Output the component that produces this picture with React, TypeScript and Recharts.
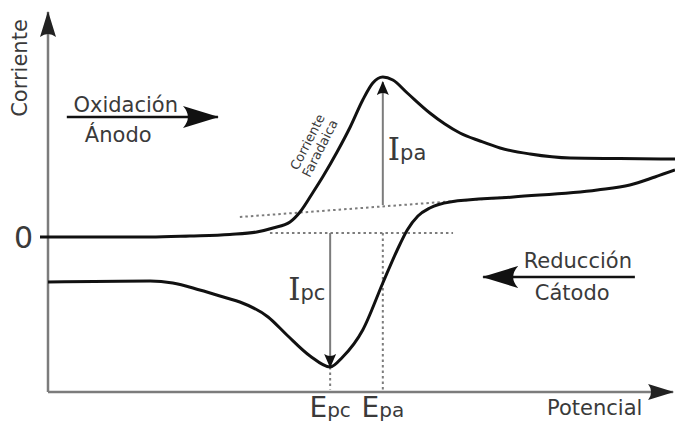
import React from 'react';
import { ComposedChart, Line, XAxis, YAxis, ReferenceLine, ReferenceDot } from 'recharts';

// cyclic voltammogram: potential (x) vs current (y)
const anodicPotential = [0, 16.3, 22.6, 29, 33.3, 35.9, 38.6, 40.2, 42.3, 43.9, 46.1, 48.2, 50.2, 51.8, 53.4, 55, 57.3, 60.9, 63.3, 65.7, 68.9, 72.1, 76.9, 83.3, 91.2, 100];
const anodicCurrent = [0, 0, 0.4, 1, 2, 3.6, 6, 10, 18, 24.4, 34, 44, 54.8, 61.6, 64, 62.8, 57.6, 49.6, 45.2, 41.6, 38.4, 35.6, 33.2, 31.6, 31.4, 31.2];

const cathodicPotential = [0, 16.3, 19.9, 24.2, 28.5, 30.6, 35.1, 38.1, 41.8, 45, 47, 50.2, 53.4, 55.7, 57.3, 59, 60.9, 64.1, 74.2, 87.6, 92.8, 96.8, 100];
const cathodicCurrent = [-18, -17.6, -18.4, -21.2, -24.4, -26, -32, -39.2, -47.6, -52, -48, -37.2, -18.4, -5.2, 2.8, 8.4, 11.6, 14, 16, 18.8, 20.8, 24, 26.8];

// peak potentials and reference levels
const EPC = 45;
const EPA = 53.4;
const peakTicks = [EPC, EPA];
const baselineStart = [30.6, 8];
const baselineEnd = [73.7, 16];
const zeroLevel = 1.6;
const zeroLineFrom = 35.4;
const zeroLineTo = 64.6;
const ipaBase = 12.8;
const ipaTop = 62;
const ipcBottom = -52;

const X_DOMAIN = [0, 100];
const Y_DOMAIN = [-62, 90];

const anodic = anodicPotential.map((x, i) => ({ x, y: anodicCurrent[i] }));
const cathodic = cathodicPotential.map((x, i) => ({ x, y: cathodicCurrent[i] }));

const ink = '#111';
const grey = '#7c7c7c';
const textColor = '#3a3a3a';
const font = 'DejaVu Sans, Verdana, sans-serif';

const note = (text: string, size = 21, anchor: 'start' | 'middle' | 'end' = 'middle', angle = 0) =>
  (p: any) => (
    <text
      x={p.cx}
      y={p.cy}
      fill={textColor}
      fontFamily={font}
      fontSize={size}
      textAnchor={anchor}
      transform={angle ? `rotate(${angle} ${p.cx} ${p.cy})` : undefined}
    >
      {text}
    </text>
  );

const peakCurrent = (sub: string) => (p: any) => (
  <text x={p.cx} y={p.cy} fill={textColor}>
    <tspan fontFamily="DejaVu Serif, serif" fontSize={31}>I</tspan>
    <tspan fontFamily={font} fontSize={21}>{sub}</tspan>
  </text>
);

const faradaic = (p: any) => (
  <text
    x={p.cx}
    y={p.cy}
    fill={textColor}
    fontFamily={font}
    fontSize={13}
    textAnchor="middle"
    transform={`rotate(-63 ${p.cx} ${p.cy})`}
  >
    <tspan x={p.cx} dy={-2}>Corriente</tspan>
    <tspan x={p.cx} dy={14}>Faradaica</tspan>
  </text>
);

const PeakTick = ({ x, y, payload }: any) => (
  <text x={x} y={y + 25} fill={textColor} fontFamily={font} textAnchor="middle">
    <tspan fontSize={28}>E</tspan>
    <tspan fontSize={20}>{payload.value === EPC ? 'pc' : 'pa'}</tspan>
  </text>
);

const ZeroTick = ({ x, y, payload }: any) => (
  <text x={x} y={y} dy={11} fill={textColor} fontFamily={font} fontSize={30} textAnchor="end">
    {payload.value}
  </text>
);

export default function App() {
  return (
    <div style={{ position: 'absolute', left: 0, top: 0, background: '#fff' }}>
      <ComposedChart width={675} height={423} margin={{ top: 12, right: 0, bottom: 0, left: 0 }}>
        <defs>
          <marker id="axisHead" markerUnits="userSpaceOnUse" markerWidth={26} markerHeight={16} refX={25} refY={8} orient="auto">
            <path d="M0,0 L26,8 L0,16 Q6,8 0,0 Z" fill="#222" />
          </marker>
          <marker id="bigHead" markerUnits="userSpaceOnUse" markerWidth={36} markerHeight={22} refX={35} refY={11} orient="auto">
            <path d="M0,0 L36,11 L0,22 Q10,11 0,0 Z" fill="#111" />
          </marker>
          <marker id="smallHead" markerUnits="userSpaceOnUse" markerWidth={14} markerHeight={12} refX={13} refY={6} orient="auto">
            <path d="M0,0 L14,6 L0,12 Q4,6 0,0 Z" fill="#111" />
          </marker>
        </defs>
        <XAxis
          type="number"
          dataKey="x"
          domain={X_DOMAIN}
          allowDataOverflow
          ticks={peakTicks}
          tick={<PeakTick />}
          tickSize={0}
          tickMargin={0}
          axisLine={false}
          tickLine={false}
          height={31}
        />
        <YAxis
          type="number"
          dataKey="y"
          domain={Y_DOMAIN}
          allowDataOverflow
          ticks={[0]}
          width={48}
          axisLine={false}
          tickLine={{ stroke: ink, strokeWidth: 3 }}
          tickSize={8}
          tickMargin={7}
          tick={<ZeroTick />}
        />

        {/* axes with arrow heads */}
        <ReferenceLine
          segment={[{ x: 0, y: Y_DOMAIN[0] }, { x: 99.7, y: Y_DOMAIN[0] }]}
          stroke={grey}
          strokeWidth={2.5}
          markerEnd="url(#axisHead)"
          ifOverflow="visible"
        />
        <ReferenceLine
          segment={[{ x: 0, y: Y_DOMAIN[0] }, { x: 0, y: Y_DOMAIN[1] }]}
          stroke={grey}
          strokeWidth={2.5}
          markerEnd="url(#axisHead)"
          ifOverflow="visible"
        />

        {/* dotted guides */}
        <ReferenceLine
          segment={[{ x: baselineStart[0], y: baselineStart[1] }, { x: baselineEnd[0], y: baselineEnd[1] }]}
          stroke={grey}
          strokeWidth={2}
          strokeDasharray="2.5 3"
        />
        <ReferenceLine
          segment={[{ x: zeroLineFrom, y: zeroLevel }, { x: zeroLineTo, y: zeroLevel }]}
          stroke={grey}
          strokeWidth={2}
          strokeDasharray="2.5 3"
        />
        <ReferenceLine
          segment={[{ x: EPA, y: zeroLevel }, { x: EPA, y: Y_DOMAIN[0] + 1 }]}
          stroke={grey}
          strokeWidth={2}
          strokeDasharray="2.5 3"
        />
        <ReferenceLine
          segment={[{ x: EPC, y: ipcBottom }, { x: EPC, y: Y_DOMAIN[0] + 1 }]}
          stroke={grey}
          strokeWidth={2}
          strokeDasharray="2.5 3"
        />

        {/* peak current arrows */}
        <ReferenceLine
          segment={[{ x: EPA, y: ipaBase }, { x: EPA, y: ipaTop }]}
          stroke={grey}
          strokeWidth={2}
          markerEnd="url(#smallHead)"
        />
        <ReferenceLine
          segment={[{ x: EPC, y: zeroLevel }, { x: EPC, y: ipcBottom }]}
          stroke={grey}
          strokeWidth={2}
          markerEnd="url(#smallHead)"
        />

        {/* scan direction arrows */}
        <ReferenceLine
          segment={[{ x: 3, y: 48 }, { x: 27.1, y: 48 }]}
          stroke={ink}
          strokeWidth={2.5}
          markerEnd="url(#bigHead)"
        />
        <ReferenceLine
          segment={[{ x: 93.6, y: -16 }, { x: 69.4, y: -16 }]}
          stroke={ink}
          strokeWidth={2.5}
          markerEnd="url(#bigHead)"
        />

        <Line data={anodic} dataKey="y" type="monotone" stroke={ink} strokeWidth={3} dot={false} activeDot={false} isAnimationActive={false} />
        <Line data={cathodic} dataKey="y" type="monotone" stroke={ink} strokeWidth={3} dot={false} activeDot={false} isAnimationActive={false} />

        {/* labels */}
        <ReferenceDot x={12.4} y={50} r={0} shape={note('Oxidación')} ifOverflow="visible" />
        <ReferenceDot x={11.2} y={38} r={0} shape={note('Ánodo')} ifOverflow="visible" />
        <ReferenceDot x={84.5} y={-12.4} r={0} shape={note('Reducción')} ifOverflow="visible" />
        <ReferenceDot x={83.6} y={-25.2} r={0} shape={note('Cátodo')} ifOverflow="visible" />
        <ReferenceDot x={87.2} y={-71.2} r={0} shape={note('Potencial')} ifOverflow="visible" />
        <ReferenceDot x={-3.35} y={67.6} r={0} shape={note('Corriente', 21, 'middle', -90)} ifOverflow="visible" />
        <ReferenceDot x={42.3} y={36.8} r={0} shape={faradaic} ifOverflow="visible" />
        <ReferenceDot x={54.2} y={30.8} r={0} shape={peakCurrent('pa')} ifOverflow="visible" />
        <ReferenceDot x={38.3} y={-25.2} r={0} shape={peakCurrent('pc')} ifOverflow="visible" />
      </ComposedChart>
    </div>
  );
}
